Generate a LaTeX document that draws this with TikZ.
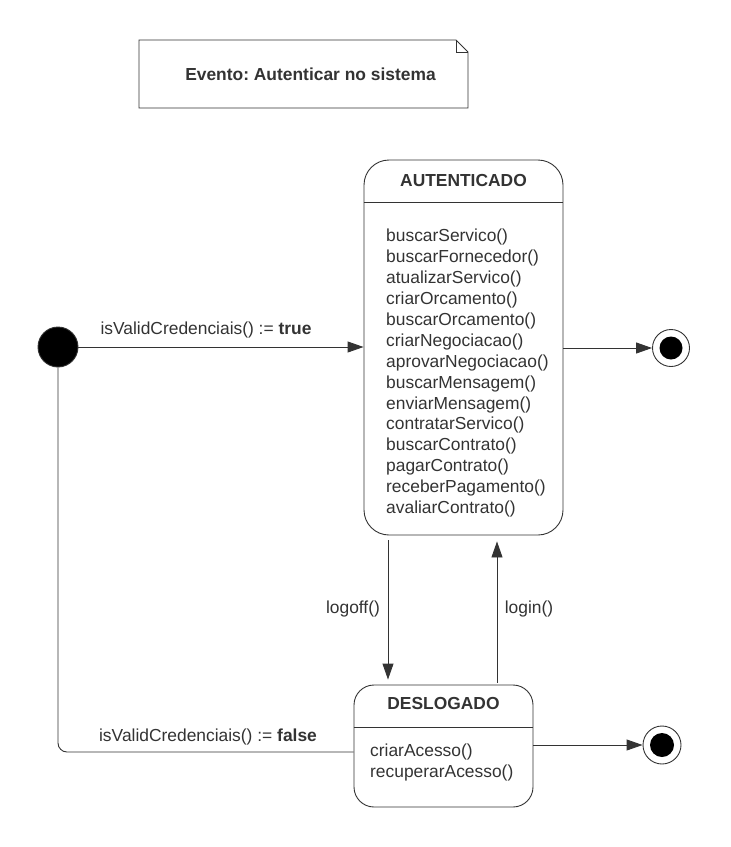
\documentclass[tikz,border=0pt]{standalone}
\usepackage{fontspec}
\setmainfont{Liberation Sans}
\usetikzlibrary{arrows.meta,calc}
\definecolor{ink}{HTML}{333333}
\frenchspacing
\begin{document}
\begin{tikzpicture}[x=1pt,y=-1pt,
  every node/.style={text=ink,font=\fontsize{17.4}{21}\selectfont},
  line/.style={draw=ink,line width=0.9pt},
  arr/.style={line,-{Triangle[length=16pt,width=11pt]}},
  statebox/.style={line,rectangle,inner sep=0pt},
  lbl/.style={inner sep=0pt},
  meth/.style={inner sep=0pt,align=left,anchor=north west}]
\useasboundingbox (0,0) rectangle (731,847);
% note
\draw[line] (139,40) -- (456,40) -- (468,52) -- (468,108) -- (139,108) -- cycle;
\draw[line] (456,40) -- (456,52) -- (468,52);
\node[lbl,font=\fontsize{17.4}{21}\selectfont\bfseries] (note) at (310.5,74) {Evento: Autenticar no sistema};
% states
\node[statebox,rounded corners=25pt,minimum width=199pt,minimum height=375pt] (aut) at (463.5,347.5) {};
\draw[line] (aut.west |- 0,202) -- (aut.east |- 0,202);
\node[lbl,font=\fontsize{17.4}{21}\selectfont\bfseries] (autt) at (463.5,181) {AUTENTICADO};
\node[meth,font=\fontsize{17.4}{20.9}\selectfont] (autm) at (386,229) {buscarServico()\\buscarFornecedor()\\atualizarServico()\\criarOrcamento()\\buscarOrcamento()\\criarNegociacao()\\aprovarNegociacao()\\buscarMensagem()\\enviarMensagem()\\contratarServico()\\buscarContrato()\\pagarContrato()\\receberPagamento()\\avaliarContrato()};
\node[statebox,rounded corners=20pt,minimum width=179pt,minimum height=122pt] (des) at (443.5,746) {};
\draw[line] (des.west |- 0,727) -- (des.east |- 0,727);
\node[lbl,font=\fontsize{17.4}{21}\selectfont\bfseries] (dest) at (443.5,704) {DESLOGADO};
\node[meth,font=\fontsize{17.4}{21}\selectfont] (desm) at (370,744) {criarAcesso()\\recuperarAcesso()};
% pseudo states
\node[circle,fill=black,draw=ink,line width=0.9pt,minimum size=40pt,inner sep=0pt] (init) at (58,347) {};
\node[circle,draw=ink,line width=0.9pt,minimum size=37pt,inner sep=0pt] (fin1) at (671,348) {};
\node[circle,fill=black,minimum size=23pt,inner sep=0pt] at (fin1) {};
\node[circle,draw=ink,line width=0.9pt,minimum size=38pt,inner sep=0pt] (fin2) at (662,745) {};
\node[circle,fill=black,minimum size=24pt,inner sep=0pt] at (fin2) {};
% connectors
\draw[arr] (init.east) -- (init -| aut.west);
\node[lbl] (t1) at (206,330) {isValidCredenciais() := \textbf{true}};
\draw[arr] (aut.east |- fin1) -- (fin1.west);
\draw[arr] ($(aut.south)+(-75.5,5)$) -- ($(des.north)+(-55.5,-5)$);
\node[lbl] (t2) at (353,609) {logoff()};
\draw[arr] ($(des.north)+(53.5,-2)$) -- ($(aut.south)+(33.5,6)$);
\node[lbl] (t3) at (529,609) {login()};
\draw[line,rounded corners=9pt] (init.south) |- (des.west |- 0,752);
\node[lbl] (t4) at (208,737) {isValidCredenciais() := \textbf{false}};
\draw[arr] (des.east |- fin2) -- (fin2.west);
\end{tikzpicture}
\end{document}
